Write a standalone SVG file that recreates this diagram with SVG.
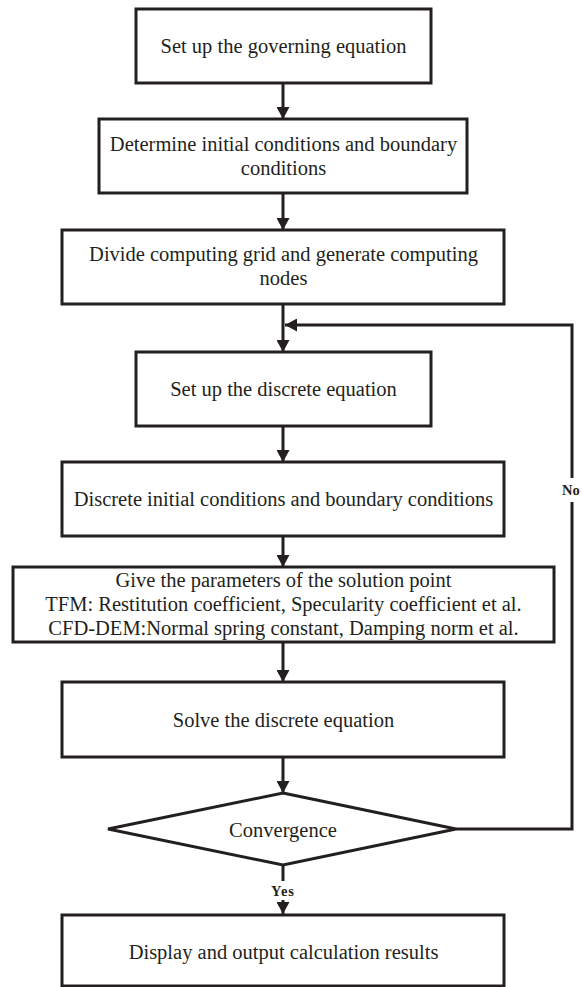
<svg xmlns="http://www.w3.org/2000/svg" width="582" height="987" viewBox="0 0 582 987">
<defs>
<style>
.box{fill:#fff;stroke:#231f20;stroke-width:3;}
.t{font-family:"Liberation Serif","Times New Roman",serif;font-size:20.5px;fill:#231f20;text-anchor:middle;}
.lbl{font-family:"Liberation Serif","Times New Roman",serif;font-size:14.5px;font-weight:bold;fill:#231f20;}
.c{fill:none;stroke:#231f20;stroke-width:3;}
</style>
<marker id="ah" markerUnits="userSpaceOnUse" markerWidth="13" markerHeight="13" viewBox="0 0 12 13" refX="12" refY="6.5" orient="auto">
<path d="M0,0 L12,6.5 L0,13 Z" fill="#231f20"/>
</marker>
</defs>
<rect width="582" height="987" fill="#fff"/>
<g id="connectors">
<path class="c" d="M283,83 V119" marker-end="url(#ah)"/>
<path class="c" d="M283,193 V230" marker-end="url(#ah)"/>
<path class="c" d="M283,304 V352" marker-end="url(#ah)"/>
<path class="c" d="M283,426 V462" marker-end="url(#ah)"/>
<path class="c" d="M283,536 V567" marker-end="url(#ah)"/>
<path class="c" d="M283,642 V682" marker-end="url(#ah)"/>
<path class="c" d="M283,757 V793" marker-end="url(#ah)"/>
<path class="c" d="M283,865 V881"/>
<path class="c" d="M283,900 V914" marker-end="url(#ah)"/>
<path class="c" d="M456,829 H572 V502 M572,478 V325 H285" marker-end="url(#ah)"/>
<text class="lbl" x="283" y="896" text-anchor="middle" letter-spacing="1">Yes</text>
<text class="lbl" x="562" y="495">No</text>
</g>
<g id="n1">
<rect class="box" x="136" y="9" width="295" height="74"/>
<text class="t" x="283.5" y="53">Set up the governing equation</text>
</g>
<g id="n2">
<rect class="box" x="99" y="119" width="368" height="74"/>
<text class="t" x="283.5" y="151">Determine initial conditions and boundary</text>
<text class="t" x="283.5" y="175">conditions</text>
</g>
<g id="n3">
<rect class="box" x="62" y="230" width="442" height="74"/>
<text class="t" x="283.5" y="261">Divide computing grid and generate computing</text>
<text class="t" x="283.5" y="285">nodes</text>
</g>
<g id="n4">
<rect class="box" x="136" y="352" width="295" height="74"/>
<text class="t" x="283.5" y="396">Set up the discrete equation</text>
</g>
<g id="n5">
<rect class="box" x="62" y="462" width="442" height="74"/>
<text class="t" x="283.5" y="506">Discrete initial conditions and boundary conditions</text>
</g>
<g id="n6">
<rect class="box" x="13" y="567" width="541" height="75"/>
<text class="t" x="283.5" y="587">Give the parameters of the solution point</text>
<text class="t" x="283.5" y="611">TFM: Restitution coefficient, Specularity coefficient et al.</text>
<text class="t" x="283.5" y="635">CFD-DEM:Normal spring constant, Damping norm et al.</text>
</g>
<g id="n7">
<rect class="box" x="62" y="682" width="442" height="75"/>
<text class="t" x="283.5" y="727">Solve the discrete equation</text>
</g>
<g id="n8">
<polygon class="box" points="283,793 456,829 283,865 108,829"/>
<text class="t" x="283" y="837">Convergence</text>
</g>
<g id="n9">
<rect class="box" x="62" y="915" width="442" height="71"/>
<text class="t" x="283.5" y="959">Display and output calculation results</text>
</g>
</svg>
